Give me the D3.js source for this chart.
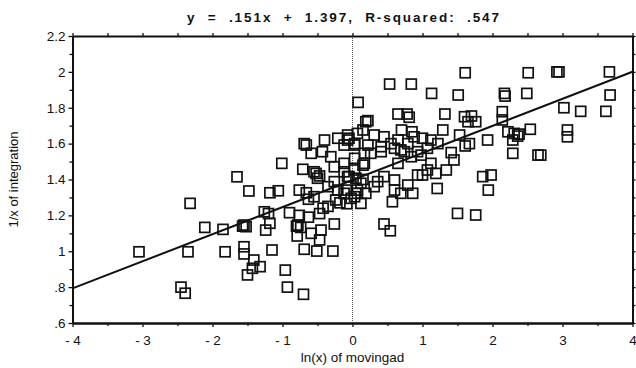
<!DOCTYPE html>
<html>
<head>
<meta charset="utf-8">
<script src="https://cdn.jsdelivr.net/npm/d3@7"></script>
<style>
  html, body { margin: 0; padding: 0; background: #fff; }
  svg text { font-family: "Liberation Sans", Arial, Helvetica, sans-serif; fill: #111; }
</style>
</head>
<body>
<svg id="chart" width="636" height="368"></svg>
<script>
// ln(x) of movingad
const moving = [
  -1.01, -1.65, -1.48, -2.32, -1.18, -1.06, -0.76, -0.66, -0.71, -0.52, -0.50, -0.63, -0.55, -0.24, -0.12, -0.02,
  -1.26, -1.20, -1.18, -1.24, -0.90, -0.76, -0.63, -0.47, -0.78, -0.74, -0.80, -1.55, -1.52, -1.57, -1.85, -2.11,
  -0.59, -0.45, -0.47, -0.26, -0.79, -3.05, -2.35, -1.82, -1.55, -1.55, -1.41, -1.32, -1.43, -1.50, -1.15, -0.69,
  -0.51, -0.28, -0.96, -0.93, -0.70, -2.45, -2.39,
  0.08, 0.19, -0.69, -0.40, -0.21, -0.07, -0.59, -0.43, -0.31, -0.55, -0.47, -0.26, -0.12, 0.03, 0.15, -0.07,
  0.05, 0.15, -0.26, -0.35, -0.21, -0.09, 0.03, 0.17, 0.07, 0.19, 0.03,
  1.61, 2.51, 2.92, 2.95, 3.67, 0.53, 0.84, 1.13, 1.51, 2.17, 2.18, 2.49, 3.68, 3.02, 3.26, 3.62,
  0.22, 0.65, 0.78, 0.81, 1.32, 1.60, 1.70, 1.65, 1.76, 2.14, 2.14, 3.07, 3.07, 2.54, 2.22, 2.31,
  2.38, 2.29, 2.36, 1.93, 1.53, 1.29, 0.70, 0.85, 1.67, 1.61, 1.41, 2.29, 2.65, 2.69, -0.07, 0.15,
  0.31, 0.45, 0.65, 0.88, 1.00, 1.12, 1.22, 0.55, 0.79, 0.03, 0.22, 0.41, 0.60, 0.69, 0.93, 1.07,
  0.41, 0.26, -0.12,
  1.86, 1.98, 1.94, 1.50, 1.76, 0.45, 0.54, 0.12, 0.57, 0.86, 1.21, 1.19, 1.34, 1.45, 0.07, 0.31,
  0.36, 0.45, 0.60, 0.60, 0.69, 0.79, 0.93, 1.00, 1.07, 1.12, 0.12, 0.17, 0.65, 0.74, 0.84, 0.98,
  -0.12, -0.05,
  0.07, -0.66, -0.05, 0.03,
  -0.35, -0.18, -0.42, -0.08
];

// 1/x of integration
const integration = [
  1.490, 1.415, 1.336, 1.267, 1.326, 1.337, 1.341, 1.326, 1.457, 1.434, 1.407, 1.290, 1.304, 1.286, 1.323, 1.295,
  1.220, 1.210, 1.156, 1.118, 1.215, 1.200, 1.190, 1.210, 1.146, 1.133, 1.140, 1.146, 1.137, 1.140, 1.122, 1.133,
  1.100, 1.118, 1.063, 1.152, 1.085, 0.997, 0.997, 0.997, 1.025, 0.985, 0.951, 0.914, 0.905, 0.868, 1.007, 1.011,
  1.001, 1.001, 0.895, 0.800, 0.760, 0.800, 0.766,
  1.830, 1.722, 1.600, 1.620, 1.630, 1.620, 1.546, 1.555, 1.527, 1.443, 1.420, 1.471, 1.490, 1.453, 1.480, 1.416,
  1.407, 1.400, 1.388, 1.360, 1.341, 1.341, 1.518, 1.546, 1.341, 1.323, 1.304,
  1.995, 1.995, 2.000, 2.000, 2.000, 1.932, 1.932, 1.880, 1.871, 1.880, 1.865, 1.880, 1.871, 1.800, 1.780, 1.780,
  1.728, 1.765, 1.765, 1.747, 1.765, 1.750, 1.754, 1.722, 1.722, 1.778, 1.732, 1.676, 1.638, 1.680, 1.666, 1.657,
  1.653, 1.620, 1.642, 1.620, 1.648, 1.676, 1.676, 1.666, 1.600, 1.587, 1.550, 1.546, 1.536, 1.536, 1.648, 1.676,
  1.648, 1.638, 1.620, 1.638, 1.630, 1.620, 1.600, 1.600, 1.600, 1.600, 1.592, 1.583, 1.574, 1.565, 1.555, 1.574,
  1.555, 1.546, 1.592,
  1.416, 1.425, 1.341, 1.211, 1.202, 1.152, 1.114, 1.267, 1.276, 1.323, 1.350, 1.434, 1.453, 1.509, 1.323, 1.360,
  1.388, 1.416, 1.397, 1.341, 1.323, 1.369, 1.425, 1.425, 1.453, 1.490, 1.379, 1.490, 1.490, 1.555, 1.527, 1.536,
  1.443, 1.416,
  1.657, 1.592, 1.630, 1.592,
  1.250, 1.270, 1.240, 1.265
];

const xTicks = [-4, -3, -2, -1, 0, 1, 2, 3, 4];
const xTickLabels = ['- 4', '- 3', '- 2', '- 1', '0', '1', '2', '3', '4'];
const yTicks = [0.6, 0.8, 1, 1.2, 1.4, 1.6, 1.8, 2, 2.2];
const yTickLabels = ['.6', '.8', '1', '1.2', '1.4', '1.6', '1.8', '2', '2.2'];
const xMinor = [-3.5, -2.5, -1.5, -0.5, 0.5, 1.5, 2.5, 3.5];
const yMinor = [0.7, 0.9, 1.1, 1.3, 1.5, 1.7, 1.9, 2.1];

const slope = 0.151;
const intercept = 1.397;
const titleText = 'y  =  .151x  +  1.397,  R-squared:  .547';

const margin = { top: 36, right: 3.5, bottom: 45, left: 72.5 };
const width = 636, height = 368;

const svg = d3.select('#chart');

const x = d3.scaleLinear().domain([-4, 4]).range([margin.left, width - margin.right]);
const y = d3.scaleLinear().domain([0.6, 2.2]).range([height - margin.bottom, margin.top]);

svg.append('defs').append('clipPath').attr('id', 'plot')
  .append('rect')
  .attr('x', x(-4)).attr('y', y(2.2))
  .attr('width', x(4) - x(-4)).attr('height', y(0.6) - y(2.2));

// dotted zero line
svg.append('line')
  .attr('x1', x(0)).attr('x2', x(0))
  .attr('y1', y(2.2)).attr('y2', y(0.6))
  .attr('stroke', '#555')
  .attr('stroke-width', 1)
  .attr('stroke-dasharray', '1,1');

// points
const pts = moving.map((d, i) => ({ mx: d, iy: integration[i] }));
const sq = 10;
svg.append('g')
  .attr('clip-path', 'url(#plot)')
  .selectAll('rect')
  .data(pts)
  .join('rect')
  .attr('x', d => x(d.mx) - sq / 2)
  .attr('y', d => y(d.iy) - sq / 2)
  .attr('width', sq)
  .attr('height', sq)
  .attr('fill', 'none')
  .attr('stroke', '#111')
  .attr('stroke-width', 1.7);

// regression line
svg.append('line')
  .attr('clip-path', 'url(#plot)')
  .attr('x1', x(-4)).attr('y1', y(slope * -4 + intercept))
  .attr('x2', x(4)).attr('y2', y(slope * 4 + intercept))
  .attr('stroke', '#111')
  .attr('stroke-width', 2);

// axes
const styleAxis = g => {
  g.select('.domain').attr('stroke', '#111').attr('stroke-width', 2);
  g.selectAll('.tick line').attr('stroke', '#111').attr('stroke-width', 1.3);
  g.selectAll('.tick text').attr('font-size', 13.5).attr('fill', '#111');
};

svg.append('g')
  .attr('transform', `translate(0,${y(0.6)})`)
  .call(d3.axisBottom(x).tickValues(xTicks).tickFormat((d, i) => xTickLabels[i]).tickSize(4).tickSizeOuter(0).tickPadding(8))
  .call(styleAxis);
svg.append('g')
  .attr('transform', `translate(0,${y(0.6)})`)
  .call(d3.axisBottom(x).tickValues(xMinor).tickFormat('').tickSize(3).tickSizeOuter(0))
  .call(styleAxis);

svg.append('g')
  .attr('transform', `translate(0,${y(2.2)})`)
  .call(d3.axisTop(x).tickValues(xTicks.concat(xMinor)).tickFormat('').tickSize(3).tickSizeOuter(0))
  .call(styleAxis);

svg.append('g')
  .attr('transform', `translate(${x(-4)},0)`)
  .call(d3.axisLeft(y).tickValues(yTicks).tickFormat((d, i) => yTickLabels[i]).tickSize(4).tickSizeOuter(0).tickPadding(3))
  .call(styleAxis);
svg.append('g')
  .attr('transform', `translate(${x(-4)},0)`)
  .call(d3.axisLeft(y).tickValues(yMinor).tickFormat('').tickSize(3).tickSizeOuter(0))
  .call(styleAxis);

svg.append('g')
  .attr('transform', `translate(${x(4)},0)`)
  .call(d3.axisRight(y).tickValues(yTicks.concat(yMinor)).tickFormat('').tickSize(3).tickSizeOuter(0))
  .call(styleAxis);

// title
svg.append('text')
  .attr('x', 343)
  .attr('y', 22)
  .attr('text-anchor', 'middle')
  .attr('font-size', 13.5)
  .attr('font-weight', 'bold')
  .attr('textLength', 312)
  .attr('lengthAdjust', 'spacing')
  .style('white-space', 'pre')
  .text(titleText);

// axis titles
svg.append('text')
  .attr('x', (x(-4) + x(4)) / 2)
  .attr('y', 362)
  .attr('text-anchor', 'middle')
  .attr('font-size', 13.5)
  .text('ln(x) of movingad');

svg.append('text')
  .attr('transform', `translate(18,${(y(0.6) + y(2.2)) / 2}) rotate(-90)`)
  .attr('text-anchor', 'middle')
  .attr('font-size', 13)
  .text('1/x of integration');
</script>
</body>
</html>
